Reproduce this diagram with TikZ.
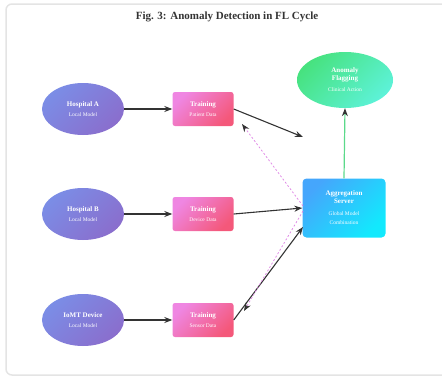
\documentclass[tikz,border=0pt]{standalone}
\usepackage{fontspec}
\setmainfont{Liberation Serif}
\usetikzlibrary{shapes.geometric,arrows.meta,calc}

\definecolor{hospA}{HTML}{7B8DE6}
\definecolor{hospB}{HTML}{8A6ECD}
\definecolor{trainA}{HTML}{EF86E2}
\definecolor{trainB}{HTML}{F4587A}
\definecolor{aggA}{HTML}{45A6FC}
\definecolor{aggB}{HTML}{12E9FD}
\definecolor{anomA}{HTML}{47E27F}
\definecolor{anomB}{HTML}{5DF2D8}
\definecolor{linkgray}{HTML}{333333}
\definecolor{feedback}{HTML}{E08CE6}
\definecolor{upgreen}{HTML}{5BD98A}
\definecolor{panel}{HTML}{E4E4E4}

% font switches for node labels
\newcommand{\namefont}{\fontsize{7}{8}\selectfont\bfseries}
\newcommand{\capfont}{\fontsize{5.5}{8}\selectfont\mdseries}
% two-line label: bold name over a small caption
\newcommand{\twoline}[2]{\namefont #1\\[1.5pt]\capfont #2}

\tikzset{
  label text/.style={text=white, align=center, font=\fontsize{7}{8}\selectfont},
  client/.style={ellipse, minimum width=82pt, minimum height=52pt, inner sep=0pt,
    top color=hospA, bottom color=hospB, shading angle=45, label text},
  trainbox/.style={rectangle, rounded corners=2.5pt, minimum width=61pt, minimum height=34pt,
    inner sep=0pt, top color=trainA, bottom color=trainB, shading angle=45, label text},
  aggbox/.style={rectangle, rounded corners=4pt, minimum width=83pt, minimum height=59pt,
    inner sep=0pt, top color=aggA, bottom color=aggB, shading angle=45, label text},
  flagnode/.style={ellipse, minimum width=96pt, minimum height=56pt, inner sep=0pt,
    top color=anomA, bottom color=anomB, shading angle=45, label text},
  link/.style={draw=linkgray, line width=1.1pt, -{Stealth[length=8pt,width=6pt]}},
  feedlink/.style={draw=feedback, line width=0.8pt, dash pattern=on 2pt off 2pt,
    -{Stealth[length=8pt,width=6pt,color=linkgray]}},
  uplink/.style={draw=upgreen, line width=1.2pt,
    -{Stealth[length=8pt,width=6pt,color=linkgray]}},
}

\begin{document}
\begin{tikzpicture}[x=1pt,y=-1pt]
\useasboundingbox (0,0) rectangle (442,378);

% panel frame
\begin{scope}
  \clip (0,0) rectangle (442,378);
  \draw[panel, line width=1.5pt, rounded corners=6pt] (6,4) rectangle (452,375);
\end{scope}

% title
\node[font=\fontsize{11}{13}\selectfont\bfseries, text=black!80] (title) at (227,17)
  {Fig. 3: Anomaly Detection in FL Cycle};

% clients
\node[client] (HA) at (83,109) {\twoline{Hospital A}{Local Model}};
\node[client] (HB) at (83,214) {\twoline{Hospital B}{Local Model}};
\node[client] (HC) at (83,320) {\twoline{IoMT Device}{Local Model}};

% local training
\node[trainbox] (TA) at (203,109) {\twoline{Training}{Patient Data}};
\node[trainbox] (TB) at (203,214) {\twoline{Training}{Device Data}};
\node[trainbox] (TC) at (203,320) {\twoline{Training}{Sensor Data}};

% server and anomaly flagging
\node[aggbox] (AG) at (344,208)
  {\namefont Aggregation\\ \namefont Server\\[4pt]
   \capfont Global Model\\[1pt] \capfont Combination};
\node[flagnode] (AN) at (345,80)
  {\namefont Anomaly\\ \namefont Flagging\\[3pt]
   \capfont Clinical Action};

% connector end points
\coordinate (upA) at (303,137);
\coordinate (inC) at (303,227);
\coordinate (outA) at (242,124);
\coordinate (outC) at (244,311);
\coordinate (srcA) at (303,206);
\coordinate (srcC) at (303,211);

% local updates
\draw[link] (HA) -- (TA);
\draw[link] (HB) -- (TB);
\draw[link] (HC) -- (TC);
\draw[link] (TA.east) -- (upA);
\draw[link] (TB.east) -- (AG.west);
\draw[link] (TC.east) -- (inC);

% global model returned to the clients
\draw[feedlink] (srcA) -- (outA);
\draw[feedlink] (srcC) -- (outC);

% server to anomaly flagging
\draw[uplink] (AG.north) -- (AN.south);
\end{tikzpicture}
\end{document}
